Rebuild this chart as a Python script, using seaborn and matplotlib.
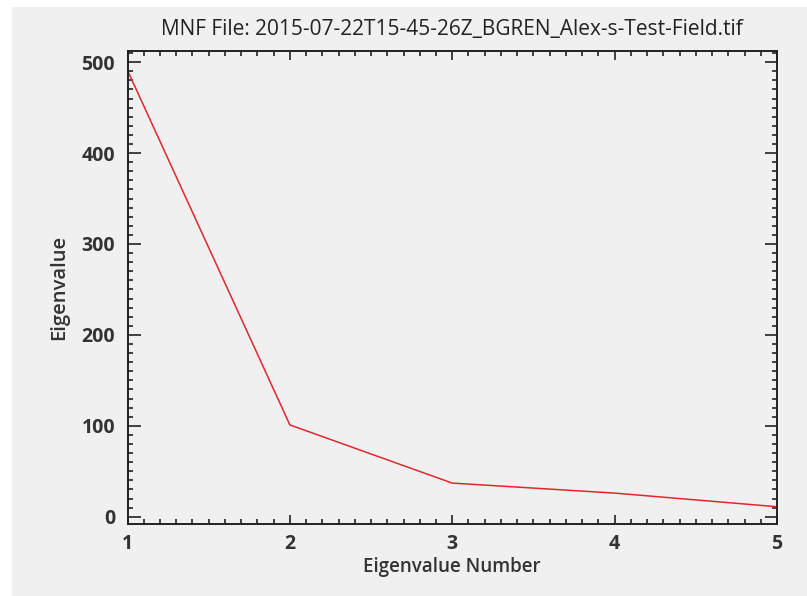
import matplotlib
matplotlib.use("Agg")
import matplotlib.pyplot as plt
from matplotlib.patches import Rectangle
from matplotlib.ticker import MultipleLocator
import seaborn as sns
import pandas as pd

# Eigenvalues per MNF component
eigen_numbers = [1, 2, 3, 4, 5]
eigen_values = [491, 101, 37, 26, 11]
x_ticks = [1, 2, 3, 4, 5]
y_ticks = [0, 100, 200, 300, 400, 500]

title = "MNF File: 2015-07-22T15-45-26Z_BGREN_Alex-s-Test-Field.tif"

sns.set_theme(style="ticks")
plt.rcParams["font.family"] = ["Open Sans", "DejaVu Sans"]

bg = "#f0f0f0"
W, H = 807, 596
fig = plt.figure(figsize=(W / 100, H / 100), dpi=100)
fig.patch.set_facecolor("white")
fig.add_artist(Rectangle((12 / W, 0), 1 - 12 / W, 1 - 7 / H,
                         transform=fig.transFigure, facecolor=bg,
                         edgecolor="none", zorder=-10))

left, right, top, bottom = 127.5, 777, 50.7, 524
ax = fig.add_axes([left / W, 1 - bottom / H, (right - left) / W, (bottom - top) / H])
ax.set_facecolor(bg)

df = pd.DataFrame({"Eigenvalue Number": eigen_numbers, "Eigenvalue": eigen_values})
sns.lineplot(data=df, x="Eigenvalue Number", y="Eigenvalue", ax=ax,
             color="#e0282c", linewidth=1.1)

ax.set_xlim(1, 5)
ax.set_ylim(-8, 512.6)
ax.set_xticks(x_ticks)
ax.set_yticks(y_ticks)
ax.xaxis.set_minor_locator(MultipleLocator(0.1))
ax.yaxis.set_minor_locator(MultipleLocator(10))

ax.tick_params(which="both", direction="in", top=True, right=True,
               color="#222222", width=1.2)
ax.tick_params(which="major", labelsize=14, labelcolor="#333333")
ax.tick_params(axis="x", which="major", length=6.5, pad=7.5)
ax.tick_params(axis="y", which="major", length=9, pad=9)
ax.tick_params(which="minor", length=3.6)
for lab in ax.get_xticklabels() + ax.get_yticklabels():
    lab.set_fontweight("bold")

for s in ax.spines.values():
    s.set_linewidth(1.4)
    s.set_color("#222222")

ax.set_xlabel("Eigenvalue Number", fontsize=13.5, fontweight="semibold",
              color="#333333", labelpad=2)
ax.set_ylabel("Eigenvalue", fontsize=14.5, fontweight="semibold",
              color="#333333", labelpad=9)
ax.set_title(title, fontsize=15, color="#222222", pad=11)

fig.savefig("out.png", dpi=100, facecolor=fig.get_facecolor())
